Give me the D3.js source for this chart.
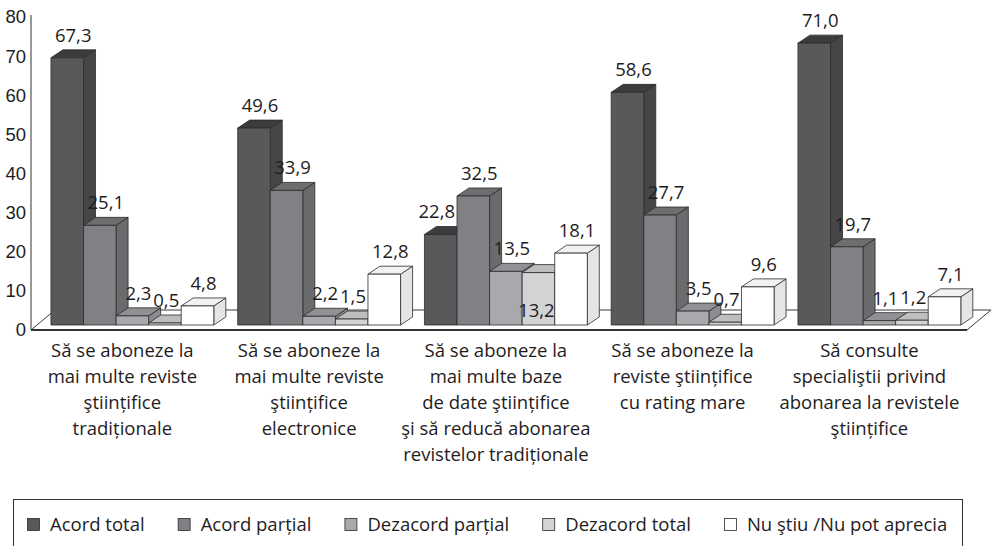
<!DOCTYPE html>
<html>
<head>
<meta charset="utf-8">
<script src="https://cdn.jsdelivr.net/npm/d3@7"></script>
<style>
    html, body { margin: 0; padding: 0; background: #fff; }
    svg { display: block; font-family: 'Open Sans', 'Noto Sans', sans-serif; }
</style>
</head>
<body>
<svg id="chart" width="991" height="546"></svg>
<script>
// Data
const categories = [
    ['Să se aboneze la', 'mai multe reviste', 'ştiințifice', 'tradiționale'],
    ['Să se aboneze la', 'mai multe reviste', 'ştiințifice', 'electronice'],
    ['Să se aboneze la', 'mai multe baze', 'de date ştiințifice', 'şi să reducă abonarea', 'revistelor tradiționale'],
    ['Să se aboneze la', 'reviste ştiințifice', 'cu rating mare'],
    ['Să consulte', 'specialiştii privind', 'abonarea la revistele', 'ştiințifice']
];
const seriesNames = ['Acord total', 'Acord parțial', 'Dezacord parțial', 'Dezacord total', 'Nu ştiu /Nu pot aprecia'];
const acordTotal      = [67.3, 49.6, 22.8, 58.6, 71.0];
const acordPartial    = [25.1, 33.9, 32.5, 27.7, 19.7];
const dezacordPartial = [2.3, 2.2, 13.5, 3.5, 1.1];
const dezacordTotal   = [0.5, 1.5, 13.2, 0.7, 1.2];
const nuStiu          = [4.8, 12.8, 18.1, 9.6, 7.1];
const yTicks = [0, 10, 20, 30, 40, 50, 60, 70, 80];

(function() {
    'use strict';

    const CONFIG = {
        fontSize: 18.5,
        textColor: '#1f1c1d',
        depth: { dx: 12, dy: 8 },
        floorDepth: { dx: 24, dy: 20 },
        colors: {
            front: ['#58595b', '#808184', '#a7a9ac', '#d1d3d4', '#ffffff'],
            top:   ['#3c3c3e', '#6d6e70', '#8f9194', '#bcbec0', '#f1f2f2'],
            side:  ['#464648', '#6a6b6d', '#8b8d90', '#b9bbbd', '#e4e5e6']
        },
        stroke: '#2b2b2b'
    };

    const series = [acordTotal, acordPartial, dezacordPartial, dezacordTotal, nuStiu];
    const locale = d3.formatLocale({ decimal: ',', thousands: '.', grouping: [3], currency: ['', ''] });
    const fmt = locale.format('.1f');

    const svg = d3.select('#chart');
    const { dx, dy } = CONFIG.depth;

    // Scales
    const x = d3.scaleBand()
        .domain(d3.range(categories.length))
        .range([39, 972.75])
        .paddingInner(0.128)
        .paddingOuter(0.064);

    const xSub = d3.scaleBand()
        .domain(d3.range(seriesNames.length))
        .range([0, x.bandwidth()]);

    const baseY = 325;
    const y = d3.scaleLinear().domain([0, 80]).range([baseY, baseY - 80 * 3.97]);
    // axis labels sit on the front edge of the floor
    const yAxisScale = d3.scaleLinear().domain([0, 80]).range([330, 17]);

    // Floor + axis line
    const floorFront = 330, floorBack = floorFront - CONFIG.floorDepth.dy;
    const axisX = 31, floorRight = 967;
    const floor = svg.append('g').attr('class', 'floor');
    floor.append('path')
        .attr('d', `M${axisX},${floorFront}L${axisX + CONFIG.floorDepth.dx},${floorBack}` +
                   `L${floorRight + CONFIG.floorDepth.dx},${floorBack}L${floorRight},${floorFront}`)
        .attr('fill', 'none')
        .attr('stroke', '#3a3a3a')
        .attr('stroke-width', 1);
    floor.append('line')
        .attr('x1', axisX).attr('x2', floorRight)
        .attr('y1', floorFront).attr('y2', floorFront)
        .attr('stroke', '#333')
        .attr('stroke-width', 2);
    floor.append('line')
        .attr('x1', axisX).attr('x2', axisX)
        .attr('y1', 15).attr('y2', floorFront)
        .attr('stroke', '#333')
        .attr('stroke-width', 1);

    // Y axis labels
    const yAxis = svg.append('g')
        .attr('transform', `translate(${axisX - 4},0)`)
        .call(d3.axisLeft(yAxisScale).tickValues(yTicks).tickSize(0).tickPadding(1).tickFormat(d3.format('d')));
    yAxis.select('.domain').remove();
    yAxis.selectAll('text')
        .attr('font-size', CONFIG.fontSize)
        .attr('font-family', null)
        .attr('fill', CONFIG.textColor);

    // Bars (drawn left to right so each front face covers the previous side face)
    const bars = svg.append('g').attr('class', 'bars');
    categories.forEach((cat, ci) => {
        series.forEach((vals, si) => {
            const x0 = x(ci) + xSub(si);
            const w = xSub.bandwidth();
            const yt = y(vals[ci]);
            const g = bars.append('g');
            g.append('path')
                .attr('d', `M${x0 + w},${yt}L${x0 + w + dx},${yt - dy}L${x0 + w + dx},${baseY - dy}L${x0 + w},${baseY}Z`)
                .attr('fill', CONFIG.colors.side[si]);
            g.append('path')
                .attr('d', `M${x0},${yt}L${x0 + dx},${yt - dy}L${x0 + w + dx},${yt - dy}L${x0 + w},${yt}Z`)
                .attr('fill', CONFIG.colors.top[si]);
            g.append('rect')
                .attr('x', x0).attr('y', yt)
                .attr('width', w).attr('height', baseY - yt)
                .attr('fill', CONFIG.colors.front[si]);
            g.selectAll('path, rect')
                .attr('stroke', CONFIG.stroke)
                .attr('stroke-width', 0.8)
                .attr('stroke-linejoin', 'round');
        });
    });

    // Value labels
    const labelsG = svg.append('g').attr('class', 'value-labels');
    categories.forEach((cat, ci) => {
        let prev = null;
        series.forEach((vals, si) => {
            const v = vals[ci];
            const x0 = x(ci) + xSub(si);
            const w = xSub.bandwidth();
            const t = labelsG.append('text')
                .attr('font-size', CONFIG.fontSize)
                .attr('fill', CONFIG.textColor)
                .attr('text-anchor', 'middle')
                .text(fmt(v));
            const tw = t.node().getComputedTextLength();
            let cx = x0 + w / 2 + dx / 2;
            let by = y(v) - 16;

            // keep clear of a taller neighbour on the right
            if (si < series.length - 1) {
                const nx = x0 + w;
                if (y(series[si + 1][ci]) - dy < by && cx + tw / 2 > nx - 2) cx = nx - 2 - tw / 2;
            }
            // collides with previous label: move inside the bar, near its base
            if (prev && cx - tw / 2 < prev.r + 3 && Math.abs(by - prev.by) < 14 && baseY - y(v) > 30) {
                cx = x0 + w / 2 - 2;
                by = baseY - 8;
            }
            t.attr('x', cx).attr('y', by);
            prev = { r: cx + tw / 2, by };
        });
    });

    // Category labels
    const catG = svg.append('g').attr('class', 'categories');
    categories.forEach((lines, ci) => {
        const t = catG.append('text')
            .attr('font-size', CONFIG.fontSize)
            .attr('fill', CONFIG.textColor)
            .attr('text-anchor', 'middle');
        lines.forEach((line, li) => {
            t.append('tspan')
                .attr('x', x(ci) + x.bandwidth() / 2 - 10)
                .attr('y', 357 + li * 26)
                .text(line);
        });
    });

    // Legend
    const legend = svg.append('g').attr('class', 'legend');
    legend.append('rect')
        .attr('x', 13.5).attr('y', 499.5)
        .attr('width', 949).attr('height', 80)
        .attr('fill', 'none')
        .attr('stroke', '#333')
        .attr('stroke-width', 1);
    let lx = 27;
    seriesNames.forEach((name, si) => {
        legend.append('rect')
            .attr('x', lx + 0.5).attr('y', 518.5)
            .attr('width', 12).attr('height', 12)
            .attr('fill', CONFIG.colors.front[si])
            .attr('stroke', CONFIG.stroke)
            .attr('stroke-width', 0.8);
        const t = legend.append('text')
            .attr('x', lx + 23).attr('y', 531)
            .attr('font-size', CONFIG.fontSize)
            .attr('fill', CONFIG.textColor)
            .text(name);
        lx += 23 + t.node().getComputedTextLength() + 33;
    });
})();
</script>
</body>
</html>
